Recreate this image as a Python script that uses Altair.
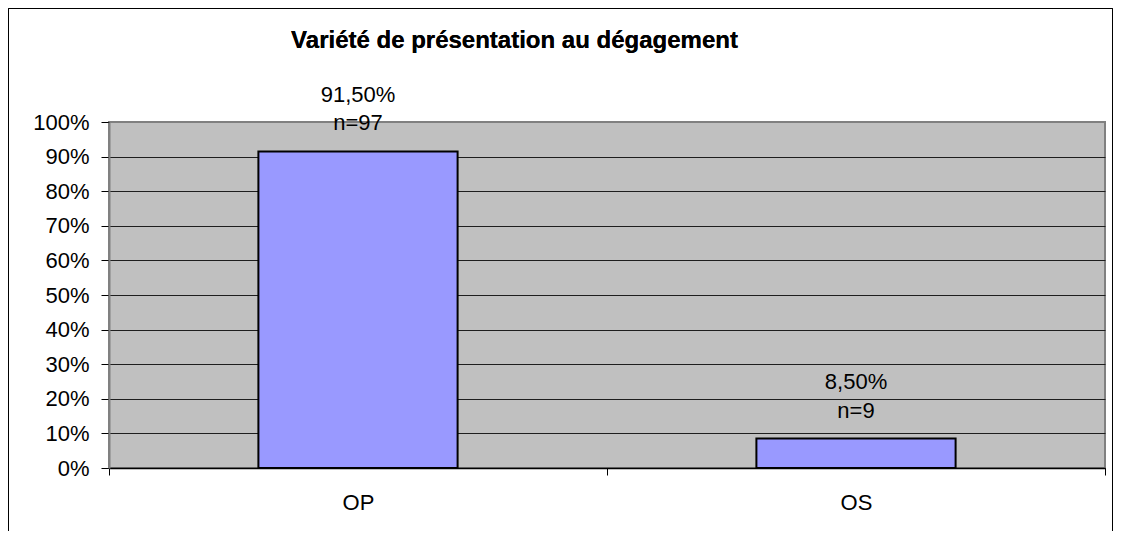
import altair as alt
import pandas as pd

# ---- data ----
categories = ["OP", "OS"]
percent = [91.5, 8.5]
counts = [97, 9]
title_text = "Variété de présentation au dégagement"
y_ticks = [0, 0.1, 0.2, 0.3, 0.4, 0.5, 0.6, 0.7, 0.8, 0.9, 1.0]

df = pd.DataFrame({
    "cat": categories,
    "pct": [p / 100 for p in percent],
    "pct_label": [f"{p:.2f}".replace(".", ",") + "%" for p in percent],
    "n_label": [f"n={n}" for n in counts],
})

FONT = "Liberation Sans"
W, H = 996, 346

x_enc = alt.X(
    "cat:N",
    sort=categories,
    scale=alt.Scale(paddingInner=0, paddingOuter=0),
    axis=alt.Axis(
        title=None, labelAngle=0, tickBand="extent", tickSize=7,
        tickColor="black", domainColor="black", domainWidth=1.5,
        labelFont=FONT, labelFontSize=22, labelColor="black",
        labelBaseline="alphabetic", labelPadding=34, grid=False,
    ),
)
y_enc = alt.Y(
    "pct:Q",
    scale=alt.Scale(domain=[0, 1], nice=False),
    axis=alt.Axis(
        title=None, values=y_ticks, tickCount=20, format=".0%", tickSize=8,
        tickColor="black", domainColor="#808080", domainWidth=2,
        labelFont=FONT, labelFontSize=22, labelColor="black",
        labelPadding=12, labelFlush=False, labelOverlap=False,
        grid=True,
        gridColor=alt.condition("datum.value == 1", alt.value("#808080"), alt.value("#1e1e1e")),
        gridWidth=1,
    ),
)

base = alt.Chart(df)

bars = base.mark_bar(
    color="#9999FF", stroke="black", strokeWidth=2, width=alt.RelativeBandSize(0.4)
).encode(x=x_enc, y=y_enc)

pct_text = base.mark_text(
    font=FONT, fontSize=22, color="black", baseline="alphabetic", align="center", dy=-49.5
).encode(x=x_enc, y=y_enc, text="pct_label:N")

n_text = base.mark_text(
    font=FONT, fontSize=22, color="black", baseline="alphabetic", align="center", dy=-21
).encode(x=x_enc, y=y_enc, text="n_label:N")

title = base.mark_text(
    font=FONT, fontSize=24, fontWeight="bold", color="black",
    baseline="alphabetic", align="center",
).encode(x=alt.value(405.5), y=alt.value(-74), text=alt.value(title_text))

border_left = base.mark_rule(color="black", strokeWidth=1).encode(
    x=alt.value(-100.5), y=alt.value(-113.5), y2=alt.value(409))
border_top = base.mark_rule(color="black", strokeWidth=1).encode(
    x=alt.value(-100.5), x2=alt.value(1003.5), y=alt.value(-113.5))
border_right = base.mark_rule(color="black", strokeWidth=1).encode(
    x=alt.value(1003.5), y=alt.value(-113.5), y2=alt.value(409))

chart = alt.layer(
    bars, pct_text, n_text, title, border_left, border_top, border_right
).properties(
    width=W, height=H,
    autosize=alt.AutoSizeParams(type="none"),
    padding={"left": 101, "top": 114, "right": 8, "bottom": 63},
    background="white",
).configure_view(
    fill="#C0C0C0", stroke="#808080", strokeWidth=2
)

chart.save("out.html", embed_options={"renderer": "svg", "actions": False})
